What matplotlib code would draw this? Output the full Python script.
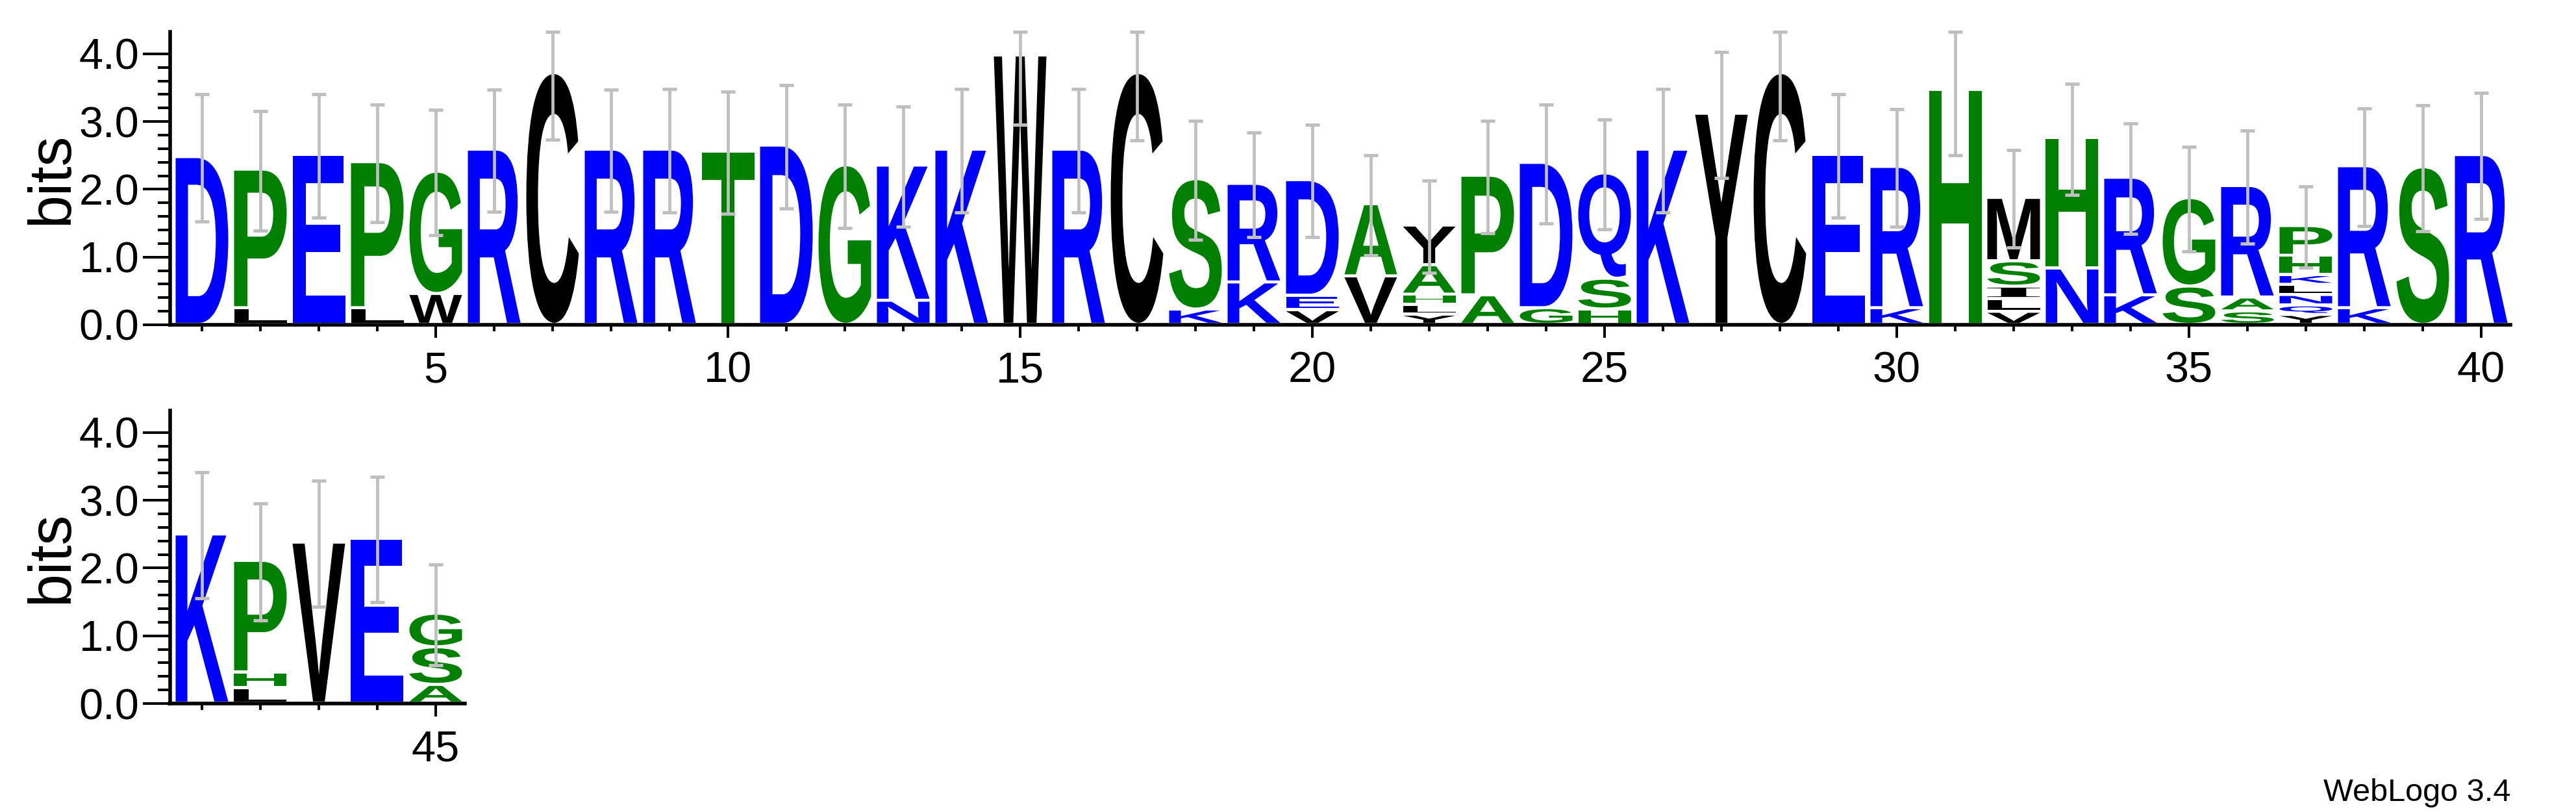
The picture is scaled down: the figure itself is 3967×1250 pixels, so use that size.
import matplotlib
matplotlib.use("Agg")
import matplotlib.pyplot as plt
from matplotlib.textpath import TextPath
from matplotlib.patches import PathPatch
from matplotlib.font_manager import FontProperties
from matplotlib.transforms import Affine2D
from matplotlib.ticker import FixedLocator

# letters of every stack, from bottom to top
stack_letters = [
    "D", "LP", "E", "LP", "WG", "R", "C", "R", "R", "T",
    "D", "G", "NK", "K", "W", "R", "C", "KS", "KR", "VED",
    "VA", "YLHAY", "AP", "GD", "HSQ", "K", "Y", "C", "E", "KR",
    "H", "VLISM", "NH", "KR", "SG", "SAR", "YQNLKHP", "KR", "S", "R",
    "K", "LHP", "V", "E", "ASG",
]
# height (bits) of every letter, same order
stack_heights = [
    [2.43], [0.20, 2.00], [2.46], [0.20, 2.11], [0.41, 1.76],
    [2.54], [3.67], [2.54], [2.54], [2.51],
    [2.60], [2.31], [0.31, 1.95], [2.54], [3.93],
    [2.54], [3.67], [0.18, 1.88], [0.58, 1.41], [0.17, 0.17, 1.66],
    [0.67, 1.02], [0.105, 0.10, 0.105, 0.39, 0.54], [0.39, 1.72], [0.20, 2.10], [0.18, 0.41, 1.51],
    [2.54], [3.07], [3.67], [2.46], [0.20, 2.04],
    [3.42], [0.147, 0.144, 0.137, 0.33, 0.89], [0.786, 1.88], [0.39, 1.69], [0.52, 1.26],
    [0.153, 0.16, 1.60], [0.10, 0.096, 0.109, 0.105, 0.099, 0.24, 0.393], [0.20, 2.05], [2.28], [2.46],
    [2.45], [0.18, 0.19, 1.60], [2.33], [2.39], [0.23, 0.51, 0.45],
]
# half length of the error bar at each stack (bits)
errors = [
    0.94, 0.88, 0.91, 0.87, 0.925, 0.90, 0.97, 0.90, 0.91, 0.90,
    0.91, 0.91, 0.885, 0.91, 1.01, 0.91, 0.98, 0.88, 0.77, 0.83,
    0.74, 0.68, 0.83, 0.88, 0.81, 0.91, 0.93, 0.98, 0.91, 0.87,
    0.95, 0.72, 0.82, 0.815, 0.77, 0.83, 0.60, 0.87, 0.93, 0.93,
    0.93, 0.86, 0.93, 0.925, 0.74,
]
max_bits = 4.32

colors = {}
for c in "DERKNQ":
    colors[c] = "#0000ff"
for c in "PGTSAH":
    colors[c] = "#008000"
for c in "CWVYMLI":
    colors[c] = "#000000"

letter_font = FontProperties(family="Liberation Sans", weight="bold")
serif_font = FontProperties(family="Liberation Serif", weight="bold")
label_font = "Liberation Sans"

W, H = 3967, 1250
step = 90.0       # px per position
bit = 104.3       # px per bit
left_px = 261.5


def draw_letter(ax, ch, x, y, w, h):
    prop = serif_font if ch == "I" else letter_font
    tp = TextPath((0, 0), ch, size=1, prop=prop)
    bb = tp.get_extents()
    tr = Affine2D().translate(-bb.x0, -bb.y0).scale(w / bb.width, h / bb.height).translate(x - w / 2, y)
    ax.add_patch(PathPatch(tr.transform_path(tp), fc=colors[ch], ec="none", lw=0, zorder=2))


def make_axes(fig, first, last, zero_px):
    x0, x1 = first - 0.55, last + 0.5
    ax = fig.add_axes([left_px / W, (H - zero_px) / H, (x1 - x0) * step / W, max_bits * bit / H])
    ax.set_xlim(x0, x1)
    ax.set_ylim(0, max_bits)
    for s in ["top", "right"]:
        ax.spines[s].set_visible(False)
    for s in ["left", "bottom"]:
        ax.spines[s].set_linewidth(4)
    ax.spines["left"].set_bounds(0, max_bits)

    pos = list(range(first, last + 1))
    ax.xaxis.set_major_locator(FixedLocator([p for p in pos if p % 5 == 0]))
    ax.xaxis.set_minor_locator(FixedLocator([p for p in pos if p % 5 != 0]))
    ax.set_xticklabels([str(p) for p in pos if p % 5 == 0])
    ax.yaxis.set_major_locator(FixedLocator([0, 1, 2, 3, 4]))
    ax.yaxis.set_minor_locator(FixedLocator([i * 0.2 for i in range(21) if i % 5 != 0]))
    ax.set_yticklabels(["0.0", "1.0", "2.0", "3.0", "4.0"])
    ax.tick_params(axis="x", which="major", length=14.4, width=2.9, pad=15, labelsize=48)
    ax.tick_params(axis="x", which="minor", length=7.2, width=2.9)
    ax.tick_params(axis="y", which="major", length=30, width=2.9, pad=4, labelsize=48)
    ax.tick_params(axis="y", which="minor", length=14, width=2.9)
    for t in ax.get_xticklabels() + ax.get_yticklabels():
        t.set_fontfamily(label_font)
    ax.set_ylabel("bits", fontsize=66, family=label_font, va="center")
    ax.yaxis.set_label_coords((80 - left_px) / ((x1 - x0) * step), 0.5)

    base = 0.03
    gap = 0.045
    for p in pos:
        i = p - 1
        y = base
        for ch, h in zip(stack_letters[i], stack_heights[i]):
            draw_letter(ax, ch, p, y, 0.9, h)
            y += h + gap
        top = y - gap
        e = errors[i]
        hi = min(top + e, max_bits) - top
        lo = top - max(top - e, 0)
        ax.errorbar([p], [top], yerr=[[lo], [hi]], fmt="none", ecolor="#bfbfbf",
                    elinewidth=3.4, capsize=7.6, capthick=3.6, zorder=3, clip_on=False)
    return ax


fig = plt.figure(figsize=(W / 100, H / 100), dpi=100)
make_axes(fig, 1, 40, 500)
make_axes(fig, 41, 45, 1083)
fig.text(3866 / W, (H - 1233) / H, "WebLogo 3.4", ha="right", va="baseline",
         fontsize=35, family=label_font)
fig.savefig("out.png", dpi=100)
